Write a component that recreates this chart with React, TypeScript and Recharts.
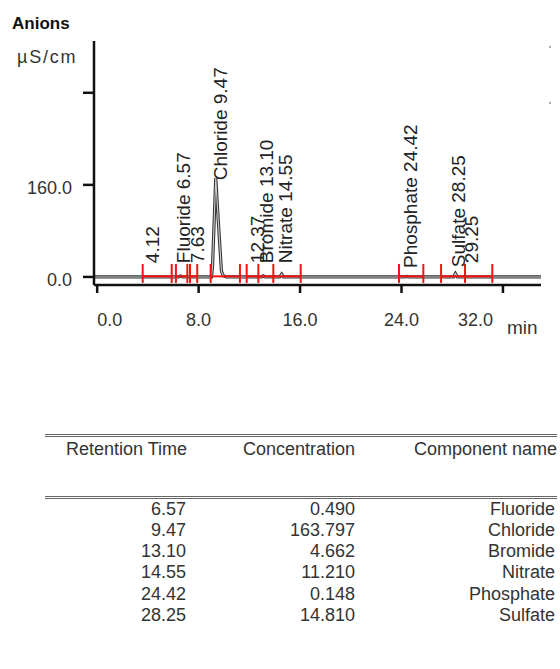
import React from 'react';
import { ComposedChart, Line, Scatter, XAxis, YAxis, ReferenceLine } from 'recharts';

// Chromatogram signal (retention time in min, conductivity in µS/cm)
const signalTimes = [-0.25, 6.4, 6.57, 6.75, 9.02, 9.1, 9.35, 9.6, 9.8, 9.95, 10.2, 12.95, 13.1, 13.25, 14.4, 14.55, 14.7, 24.3, 24.42, 24.55, 28.1, 28.25, 28.4, 35];
const signalValues = [0, 0, 1.5, 0, 0, 20, 172, 80, 10, 2, 0, 0, 2, 0, 0, 5, 0, 0, 1, 0, 0, 6, 0, 0];

// Peak annotations
const peakLabelTexts = ['4.12', 'Fluoride 6.57', '7.63', 'Chloride 9.47', '12.37', 'Bromide 13.10', 'Nitrate 14.55', 'Phosphate 24.42', 'Sulfate 28.25', '29.25'];
const peakLabelTimes = [4.12, 6.57, 7.63, 9.47, 12.37, 13.1, 14.55, 24.42, 28.25, 29.25];
const peakLabelLevels = [24, 24, 24, 168, 24, 24, 24, 15.5, 17, 24];

// Integration boundaries (min)
const integrationStarts = [3.59, 6.21, 7.32, 8.95, 11.79, 12.71, 13.89, 23.8, 27.12, 29.01];
const integrationEnds = [5.88, 7.11, 7.89, 11.26, 12.71, 13.89, 16.05, 25.72, 29.01, 31.16];

// Axis ticks
const xTicks = [0, 8, 16, 24, 32];
const yTicks = [0, 160, 320];
const yTickLabels = ['0.0', '160.0', ''];

// Results table
const tableHeaders = ['Retention Time', 'Concentration', 'Component name'];
const retentionTimes = ['6.57', '9.47', '13.10', '14.55', '24.42', '28.25'];
const concentrations = ['0.490', '163.797', '4.662', '11.210', '0.148', '14.810'];
const componentNames = ['Fluoride', 'Chloride', 'Bromide', 'Nitrate', 'Phosphate', 'Sulfate'];

const signalData = signalTimes.map((t, i) => ({ t, v: signalValues[i] }));
const labelData = peakLabelTimes.map((t, i) => ({ t, v: peakLabelLevels[i], label: peakLabelTexts[i] }));
const boundaries = Array.from(new Set([...integrationStarts, ...integrationEnds]));

const FONT = "Arial, 'Liberation Sans', sans-serif";
const RED = '#f01414';

const XTick = (props: any) => {
  const { x, y, payload } = props;
  const v = payload.value;
  let anchor: any = 'middle';
  let dx = 0;
  if (v === 0) { anchor = 'start'; }
  if (v === 32) { anchor = 'end'; dx = -10; }
  return (
    <text x={x + dx} y={y + 33} textAnchor={anchor} fontSize={18} fontFamily={FONT} fill="#333">
      {Number(v).toFixed(1)}
    </text>
  );
};

const YTick = (props: any) => {
  const { x, y, payload } = props;
  const idx = yTicks.indexOf(payload.value);
  return (
    <text x={x} y={y + 9.5} textAnchor="end" fontSize={18} fontFamily={FONT} fill="#333">
      {idx >= 0 ? yTickLabels[idx] : ''}
    </text>
  );
};

const PeakLabel = (props: any) => {
  const { cx, cy, payload } = props;
  if (cx == null || cy == null) return null;
  const bx = cx + 10;
  return (
    <text x={bx} y={cy} transform={`rotate(-90 ${bx} ${cy})`} textAnchor="start" fontSize={19} fontFamily={FONT} fill="#222">
      {payload.label}
    </text>
  );
};

const Txt = ({ right, center, size = 18, children, weight = 400, left, spacing = 0, color = '#333' }: any) => (
  <div
    style={{
      position: 'absolute',
      top: center - size / 2,
      ...(left != null ? { left } : { right: 560 - right }),
      fontSize: size,
      lineHeight: `${size}px`,
      fontFamily: FONT,
      fontWeight: weight,
      letterSpacing: spacing,
      color,
      whiteSpace: 'nowrap',
    }}
  >
    {children}
  </div>
);

export default function App() {
  const rowCenters = retentionTimes.map((_, i) => 508.5 + i * 21.3);
  return (
    <div style={{ position: 'absolute', left: 0, top: 0, width: 560, height: 669, background: '#fff', overflow: 'hidden' }}>
      <div style={{ position: 'absolute', left: 0, top: 0 }}>
        <ComposedChart width={560} height={340} margin={{ top: 41, right: 19, bottom: 0, left: 0 }}>
          <XAxis
            type="number"
            dataKey="t"
            domain={[-0.25, 35]}
            ticks={xTicks}
            allowDataOverflow
            height={55}
            tickSize={8}
            tickMargin={0}
            axisLine={{ stroke: '#111', strokeWidth: 2.5 }}
            tickLine={{ stroke: '#111', strokeWidth: 2.5 }}
            tick={<XTick />}
          />
          <YAxis
            type="number"
            domain={[-14, 410]}
            ticks={yTicks}
            allowDataOverflow
            width={94}
            tickSize={11}
            tickMargin={11}
            axisLine={{ stroke: '#111', strokeWidth: 2.5 }}
            tickLine={{ stroke: '#111', strokeWidth: 2.5 }}
            tick={<YTick />}
          />
          <Line data={signalData} dataKey="v" type="linear" stroke="#333" strokeWidth={3.2} dot={false} activeDot={false} isAnimationActive={false} />
          <Line data={signalData} dataKey="v" type="linear" stroke="#d0d0d0" strokeWidth={1.1} dot={false} activeDot={false} isAnimationActive={false} />
          {integrationStarts.map((s, i) => (
            <ReferenceLine
              key={`h${i}`}
              segment={[{ x: s, y: 1 }, { x: integrationEnds[i], y: 1 }]}
              stroke={RED}
              strokeWidth={2}
              ifOverflow="visible"
            />
          ))}
          {boundaries.map((b, i) => (
            <ReferenceLine
              key={`v${i}`}
              segment={[{ x: b, y: -10.4 }, { x: b, y: 22.6 }]}
              stroke={RED}
              strokeWidth={2}
              ifOverflow="visible"
            />
          ))}
          <Scatter data={labelData} dataKey="v" shape={<PeakLabel />} isAnimationActive={false} />
        </ComposedChart>
      </div>

      <Txt left={12} center={23} size={17} weight={700} color="#111">Anions</Txt>
      <Txt left={17} center={57} size={18} spacing={1.8}>µS/cm</Txt>
      <Txt left={507} center={327} size={19}>min</Txt>

      <div style={{ position: 'absolute', left: 549, top: 46, width: 2, height: 2, background: '#aaa' }} />
      <div style={{ position: 'absolute', left: 549, top: 102, width: 2, height: 2, background: '#aaa' }} />

      <div style={{ position: 'absolute', left: 45, top: 434, width: 512, height: 0, borderTop: '3px double #666' }} />
      <div style={{ position: 'absolute', left: 45, top: 496, width: 512, height: 0, borderTop: '3px double #666' }} />

      <Txt right={187} center={449}>{tableHeaders[0]}</Txt>
      <Txt right={355} center={449}>{tableHeaders[1]}</Txt>
      <Txt right={557} center={449}>{tableHeaders[2]}</Txt>

      {retentionTimes.map((r, i) => (
        <React.Fragment key={i}>
          <Txt right={186} center={rowCenters[i]}>{r}</Txt>
          <Txt right={355} center={rowCenters[i]}>{concentrations[i]}</Txt>
          <Txt right={555} center={rowCenters[i]}>{componentNames[i]}</Txt>
        </React.Fragment>
      ))}
    </div>
  );
}
